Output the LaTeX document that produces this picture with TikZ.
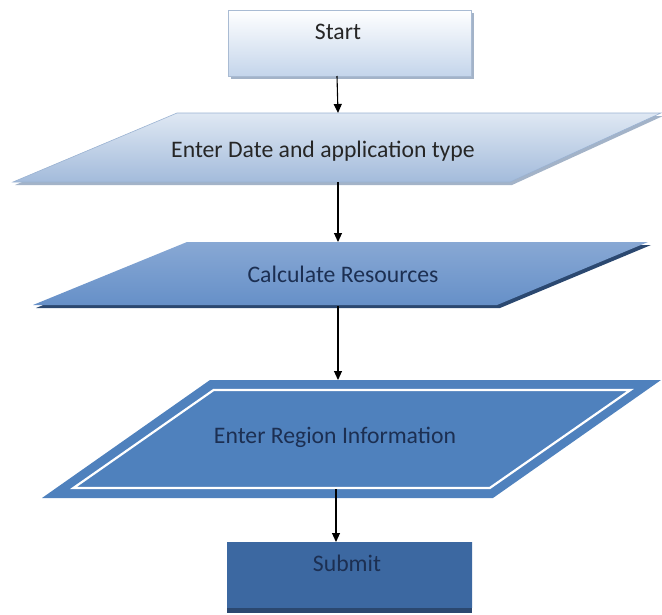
\documentclass[tikz,border=0pt]{standalone}
\usepackage{fontspec}
\setmainfont{Carlito}
\usetikzlibrary{arrows.meta}
\definecolor{startbot}{HTML}{C4D5EB}
\definecolor{startedge}{HTML}{A9BBD3}
\definecolor{ponetop}{HTML}{DFE8F3}
\definecolor{ponebot}{HTML}{A3BBDB}
\definecolor{poneedge}{HTML}{9AB2D2}
\definecolor{shadowlight}{HTML}{A3B3C8}
\definecolor{ptwotop}{HTML}{88A8D4}
\definecolor{ptwomid}{HTML}{4F7FBB}
\definecolor{ptwobot}{HTML}{6690C8}
\definecolor{shadowdark}{HTML}{2B4870}
\definecolor{pthree}{HTML}{4F81BD}
\definecolor{subtop}{HTML}{3C68A1}
\definecolor{submid}{HTML}{4B7DBD}
\definecolor{txtdark}{HTML}{1C2F52}
\definecolor{txtgray}{HTML}{262626}
\tikzset{
  lbl/.style={inner sep=0pt, font=\fontsize{23.7}{28}\selectfont},
  arr/.style={draw=black, line width=1.1pt, -{Triangle[width=8pt,length=9pt]}}
}
\begin{document}
\begin{tikzpicture}[x=1pt,y=-1pt]
\useasboundingbox (0,0) rectangle (662,614);
% Start box
\fill[shadowlight] (231,13) rectangle (474,79);
\shade[top color=white, bottom color=startbot, draw=startedge, line width=0.8pt] (228,10) rectangle (471,76);
\node[lbl, text=txtgray] (start) at (338,32) {Start};
\coordinate (s1) at (337,76);
% Parallelogram 1
\fill[shadowlight] (179,116) -- (663,116) -- (512,185) -- (15,185) -- cycle;
\shade[top color=ponetop, bottom color=ponebot, draw=poneedge, line width=0.6pt]
  (177,113) -- (661,113) -- (510,182) -- (13,182) -- cycle;
\node[lbl, text=txtgray] (p1) at (323,151) {Enter Date and application type};
\coordinate (p1t) at (338,113);
\coordinate (p1b) at (338,182);
% Parallelogram 2
\fill[shadowdark] (190,245) -- (651,245) -- (500,308) -- (36,308) -- cycle;
\shade[top color=ptwotop, middle color=ptwomid, bottom color=ptwobot]
  (187,242) -- (648,242) -- (497,305) -- (33,305) -- cycle;
\node[lbl, text=txtdark] (p2) at (343,274) {Calculate Resources};
\coordinate (p2t) at (338,242);
\coordinate (p2b) at (338,306);
% Parallelogram 3
\fill[pthree] (210,380) -- (661,380) -- (493,498) -- (42,498) -- cycle;
\draw[white, line width=2.2pt] (213.6,390) -- (630.4,390) -- (489.8,488) -- (73.4,488) -- cycle;
\node[lbl, text=txtdark] (p3) at (335,437) {Enter Region Information};
\coordinate (p3t) at (338,380);
\coordinate (p3b) at (336,489);
% Submit box
\fill[shadowdark] (227,600) rectangle (472,613);
\shade[top color=subtop, middle color=submid, bottom color=subtop] (227,542) rectangle (472,607);
\node[lbl, text=txtdark] (submit) at (347,563) {Submit};
\coordinate (sub) at (336,542);
% Connectors
\draw[arr] (s1) -- (p1t);
\draw[arr] (p1b) -- (p2t);
\draw[arr] (p2b) -- (p3t);
\draw[arr] (p3b) -- (sub);
\end{tikzpicture}
\end{document}
